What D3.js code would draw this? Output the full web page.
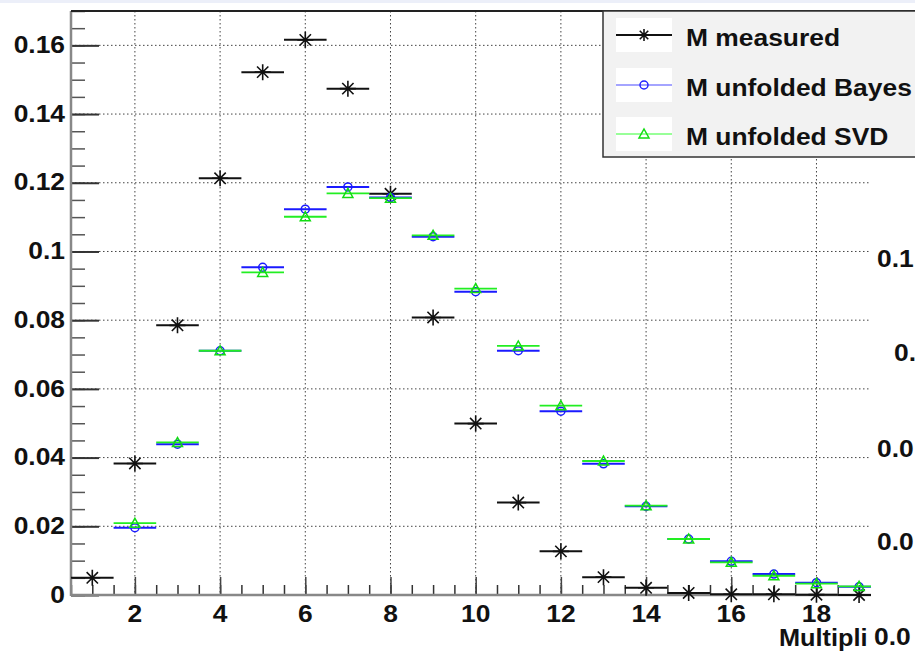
<!DOCTYPE html>
<html lang="en">
<head>
    <meta charset="UTF-8">
    <title>Multiplicity unfolding</title>
    <script src="https://cdn.jsdelivr.net/npm/d3@7"></script>
    <style>
        body { margin: 0; background: #fff; }
        svg { display: block; }
        text { font-family: "Liberation Sans", Arial, Helvetica, sans-serif; font-weight: bold; font-size: 24px; fill: #111; }
    </style>
</head>
<body>
<svg id="chart" width="915" height="657"></svg>
<script>
    // bin centres (multiplicity)
    var bins = [1, 2, 3, 4, 5, 6, 7, 8, 9, 10, 11, 12, 13, 14, 15, 16, 17, 18, 19]
    var measured = [0.005, 0.0383, 0.0785, 0.1213, 0.1522, 0.1616, 0.1474, 0.1168, 0.0808, 0.0499,
        0.0269, 0.0127, 0.0052, 0.0021, 0.0006, 0.0002, 0.0002, 0.0001, 0.0]
    var bayes = [null, 0.0196, 0.0439, 0.0711, 0.0954, 0.1123, 0.1188, 0.1157, 0.1043, 0.0883,
        0.0711, 0.0535, 0.0382, 0.0258, 0.0163, 0.0098, 0.0061, 0.0036, 0.0024]
    var svd = [null, 0.0209, 0.0444, 0.0711, 0.0939, 0.1101, 0.1169, 0.1155, 0.1047, 0.0892,
        0.0725, 0.0551, 0.0390, 0.0260, 0.0163, 0.0095, 0.0056, 0.0033, 0.0025]
    var yTicks = [0, 0.02, 0.04, 0.06, 0.08, 0.1, 0.12, 0.14, 0.16]
    var xTicks = [2, 4, 6, 8, 10, 12, 14, 16, 18]
    var legendNames = ['M measured', 'M unfolded Bayes', 'M unfolded SVD']
    // the x title and the neighbouring pad's labels are cut by the crop
    var xTitle = 'Multipli'
    var sideLabels = ['0.1', '0.', '0.0', '0.0', '0.0']

    var svg = d3.select('#chart')
    var padL = 71, padT = 11, padB = 595, padR = 871
    var SX = 1.1 // text in the picture is a bit wider than plain Helvetica

    var x = d3.scaleLinear().domain([0.5, 19.28]).range([padL, padR])
    var y = d3.scaleLinear().domain([0, 0.17]).range([padB, padT])

    svg.append('rect').attr('x', 0).attr('y', 0).attr('width', 915).attr('height', 3).attr('fill', '#eceff9')

    var defs = svg.append('defs')
    defs.append('clipPath').attr('id', 'plotclip')
        .append('rect').attr('x', padL - 30).attr('y', 0).attr('width', padR - padL + 30).attr('height', 657)

    var plot = svg.append('g').attr('clip-path', 'url(#plotclip)')

    // grid
    plot.append('g').selectAll('line').data(yTicks.slice(1)).join('line')
        .attr('x1', padL).attr('x2', padR + 40)
        .attr('y1', function (d) { return y(d) }).attr('y2', function (d) { return y(d) })
        .attr('stroke', '#444').attr('stroke-width', 1).attr('stroke-dasharray', '1.5,2.5')
    plot.append('g').selectAll('line').data(xTicks).join('line')
        .attr('x1', function (d) { return x(d) }).attr('x2', function (d) { return x(d) })
        .attr('y1', padT).attr('y2', padB)
        .attr('stroke', '#444').attr('stroke-width', 1).attr('stroke-dasharray', '1.5,2.5')

    // axes drawn with d3.axis, inner ticks
    var yMinor = d3.range(0, 0.1701, 0.005)
    var xMinor = d3.range(0.5, 19.3, 0.5)
    plot.append('g').attr('transform', 'translate(' + padL + ',0)')
        .call(d3.axisRight(y).tickValues(yMinor).tickSize(14).tickFormat(''))
        .call(function (g) { g.select('.domain').remove(); g.selectAll('line').attr('stroke', '#555').attr('stroke-width', 1.5) })
    plot.append('g').attr('transform', 'translate(' + padL + ',0)')
        .call(d3.axisRight(y).tickValues(yTicks).tickSize(28).tickFormat(''))
        .call(function (g) { g.select('.domain').remove(); g.selectAll('line').attr('stroke', '#333').attr('stroke-width', 2) })
    plot.append('g').attr('transform', 'translate(0,' + padB + ')')
        .call(d3.axisTop(x).tickValues(xMinor).tickSize(10).tickFormat(''))
        .call(function (g) { g.select('.domain').remove(); g.selectAll('line').attr('stroke', '#333').attr('stroke-width', 1.5) })
    plot.append('g').attr('transform', 'translate(0,' + padB + ')')
        .call(d3.axisTop(x).tickValues(xTicks).tickSize(18).tickFormat(''))
        .call(function (g) { g.select('.domain').remove(); g.selectAll('line').attr('stroke', '#444').attr('stroke-width', 1.5) })

    // frame
    svg.append('line').attr('x1', padL).attr('x2', 915).attr('y1', padT).attr('y2', padT).attr('stroke', '#222').attr('stroke-width', 2)
    plot.append('line').attr('x1', padL).attr('x2', padL).attr('y1', padT).attr('y2', padB + 1).attr('stroke', '#888').attr('stroke-width', 2.5)
    plot.append('line').attr('x1', padL).attr('x2', padR + 40).attr('y1', padB).attr('y2', padB).attr('stroke', '#888').attr('stroke-width', 2.5)

    // markers
    function star (g, cx, cy, r, col) {
        var p = ''
        for (var k = 0; k < 4; k++) {
            var a = k * Math.PI / 4
            p += 'M' + (cx - r * Math.cos(a)) + ',' + (cy - r * Math.sin(a)) + 'L' + (cx + r * Math.cos(a)) + ',' + (cy + r * Math.sin(a))
        }
        g.append('path').attr('d', p).attr('stroke', col).attr('stroke-width', 1.6).attr('fill', 'none')
    }
    function circle (g, cx, cy, col) {
        g.append('circle').attr('cx', cx).attr('cy', cy).attr('r', 4).attr('fill', 'none').attr('stroke', col).attr('stroke-width', 1.5)
    }
    function triangle (g, cx, cy, col) {
        g.append('path').attr('d', 'M' + (cx - 5) + ',' + (cy + 4) + 'L' + (cx + 5) + ',' + (cy + 4) + 'L' + cx + ',' + (cy - 5) + 'Z')
            .attr('fill', 'none').attr('stroke', col).attr('stroke-width', 1.5)
    }

    function drawSeries (vals, col, width, marker) {
        var g = plot.append('g')
        bins.forEach(function (b, i) {
            if (vals[i] === null) return
            g.append('line').attr('x1', x(b - 0.5)).attr('x2', x(b + 0.5))
                .attr('y1', y(vals[i])).attr('y2', y(vals[i]))
                .attr('stroke', col).attr('stroke-width', width)
            marker(g, x(b), y(vals[i]))
        })
    }
    drawSeries(measured, '#111', 2, function (g, cx, cy) { star(g, cx, cy, 8, '#111') })
    drawSeries(bayes, '#1a1aff', 2, function (g, cx, cy) { circle(g, cx, cy, '#1a1aff') })
    drawSeries(svd, '#22ee22', 1.8, function (g, cx, cy) { triangle(g, cx, cy, '#11dd11') })

    // tick labels
    yTicks.forEach(function (t) {
        svg.append('text').attr('text-anchor', 'end').attr('dy', '0.36em')
            .attr('transform', 'translate(65,' + (y(t) - 1) + ') scale(' + SX + ',1)')
            .text(t === 0 ? '0' : d3.format('.2~f')(t))
    })
    xTicks.forEach(function (t) {
        svg.append('text').attr('text-anchor', 'middle').attr('dy', '0.36em')
            .attr('transform', 'translate(' + x(t) + ',613) scale(' + SX + ',1)')
            .text(t)
    })
    svg.append('text').attr('dy', '0.36em').style('font-size', '23px')
        .attr('transform', 'translate(779,638) scale(' + SX + ',1)')
        .text(xTitle)

    // right pad labels
    var sideY = [258, 352, 448, 541, 636]
    var sideX = [877, 894, 877, 877, 874]
    sideLabels.forEach(function (s, i) {
        svg.append('text').attr('dy', '0.36em')
            .attr('transform', 'translate(' + sideX[i] + ',' + sideY[i] + ') scale(' + SX + ',1)')
            .text(s)
    })

    // legend
    var leg = svg.append('g')
    leg.append('rect').attr('x', 603).attr('y', padT).attr('width', 330).attr('height', 146)
        .attr('fill', '#f2f2f2').attr('stroke', '#333').attr('stroke-width', 1.5)
    var legCols = ['#111', '#4a4aff', '#33ff33']
    var legY = [35, 85, 134]
    legendNames.forEach(function (name, i) {
        leg.append('rect').attr('x', 616).attr('y', legY[i] - 17).attr('width', 56).attr('height', 34).attr('fill', '#fff')
        leg.append('line').attr('x1', 616).attr('x2', 672).attr('y1', legY[i]).attr('y2', legY[i])
            .attr('stroke', legCols[i]).attr('stroke-width', i === 0 ? 1.8 : 1.2)
        if (i === 0) star(leg, 644, legY[i], 6, '#111')
        if (i === 1) circle(leg, 644, legY[i], '#2222ff')
        if (i === 2) triangle(leg, 644, legY[i], '#11dd11')
        leg.append('text').attr('dy', '0.36em')
            .attr('transform', 'translate(686,' + (legY[i] + 2) + ') scale(' + SX + ',1)')
            .text(name)
    })
</script>
</body>
</html>
